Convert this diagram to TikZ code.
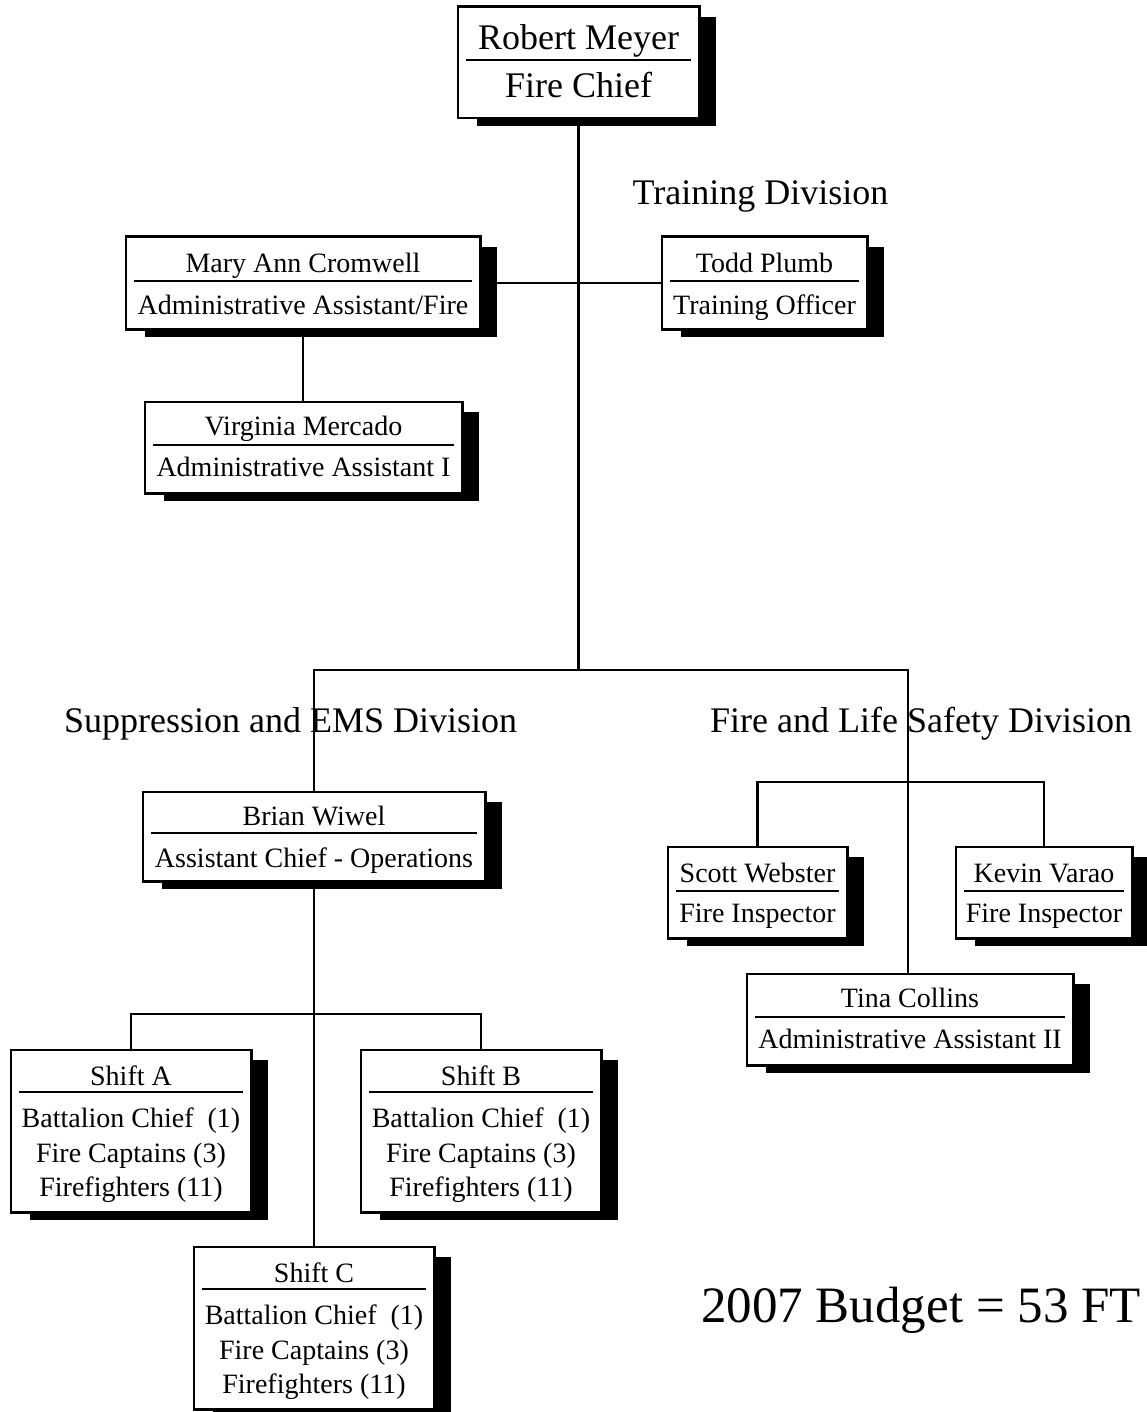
\documentclass[tikz,border=0pt]{standalone}
\usepackage{fontspec}
\setmainfont{Liberation Serif}
\usetikzlibrary{shadows}
\begin{document}
\begin{tikzpicture}[x=1pt,y=-1pt,
  orgbox/.style={draw, line width=2.5pt, fill=white, inner sep=0pt,
    drop shadow={shadow xshift=18pt, shadow yshift=-9pt, fill=black, opacity=1}},
  conn/.style={line width=2.5pt},
  divl/.style={line width=1.4pt},
  lbl/.style={anchor=base, inner sep=0pt, font=\fontsize{28}{30}\selectfont},
  biglbl/.style={anchor=base, inner sep=0pt, font=\fontsize{36}{40}\selectfont},
  budget/.style={anchor=base west, inner sep=0pt, font=\fontsize{51}{56}\selectfont}
]
\useasboundingbox (0,0) rectangle (1146,1412);
\fill[white] (0,0) rectangle (1146,1412);

% junction coordinates
\coordinate (jc) at (578,670);
\coordinate (jr) at (908,670);
\coordinate (fb) at (908,782);
\coordinate (sb) at (314,1014);

% boxes with shadows
\path
  node[orgbox, minimum width=239pt, minimum height=109pt] (chief) at (578.5,62.5) {}
  node[orgbox, minimum width=352pt, minimum height=90pt] (mary) at (303,283) {}
  node[orgbox, minimum width=203pt, minimum height=90pt] (todd) at (764.5,283) {}
  node[orgbox, minimum width=315pt, minimum height=89pt] (virg) at (303.5,447.5) {}
  node[orgbox, minimum width=340pt, minimum height=87pt] (brian) at (314,836.5) {}
  node[orgbox, minimum width=177pt, minimum height=89pt] (scott) at (757.5,892.5) {}
  node[orgbox, minimum width=174pt, minimum height=89pt] (kevin) at (1044,892.5) {}
  node[orgbox, minimum width=324pt, minimum height=89pt] (tina) at (910,1019.5) {}
  node[orgbox, minimum width=238pt, minimum height=160pt] (shA) at (131,1131) {}
  node[orgbox, minimum width=238pt, minimum height=160pt] (shB) at (481,1131) {}
  node[orgbox, minimum width=238pt, minimum height=160pt] (shC) at (314,1328) {};

% connectors
\draw[conn] (chief.south) -- (chief.south |- jc);
\draw[conn] (mary.east) -- (todd.west);
\draw[conn] (mary.south) -- (mary.south |- virg.north);
\draw[conn] (brian.north) -- (brian.north |- jc) -- (jr) -- (jr |- tina.north);
\draw[conn] (scott.north) -- (scott.north |- fb) -- (kevin.north |- fb) -- (kevin.north);
\draw[conn] (brian.south) -- (shC.north);
\draw[conn] (shA.north) -- (shA.north |- sb) -- (shB.north |- sb) -- (shB.north);

% redraw box faces on top of connectors
\foreach \n in {chief,mary,todd,virg,brian,scott,kevin,tina,shA,shB,shC}{
  \draw[line width=2.5pt, fill=white] (\n.north west) rectangle (\n.south east);
}

% dividers
\draw[divl] (466,60) -- (691,60);
\draw[divl] (134,281) -- (472,281);
\draw[divl] (670,281) -- (859,281);
\draw[divl] (153,445) -- (454,445);
\draw[divl] (151,833) -- (477,833);
\draw[divl] (676,891) -- (839,891);
\draw[divl] (964,891) -- (1124,891);
\draw[divl] (755,1017) -- (1065,1017);
\draw[divl] (19,1092) -- (243,1092);
\draw[divl] (369,1092) -- (593,1092);
\draw[divl] (202,1289) -- (426,1289);

% texts
\node[biglbl] (t1) at (578.5,50) {Robert Meyer};
\node[biglbl] (t2) at (578.5,98) {Fire Chief};
\node[lbl] (t3) at (303,273) {Mary Ann Cromwell};
\node[lbl] (t4) at (303,314) {Administrative Assistant/Fire};
\node[lbl] (t5) at (764.5,273) {Todd Plumb};
\node[lbl] (t6) at (764.5,314) {Training Officer};
\node[lbl] (t7) at (303.5,435) {Virginia Mercado};
\node[lbl] (t8) at (303.5,476) {Administrative Assistant I};
\node[lbl] (t9) at (314,825) {Brian Wiwel};
\node[lbl] (t10) at (314,867) {Assistant Chief - Operations};
\node[lbl] (t11) at (757.5,882) {Scott Webster};
\node[lbl] (t12) at (757.5,922) {Fire Inspector};
\node[lbl] (t13) at (1044,882) {Kevin Varao};
\node[lbl] (t14) at (1044,922) {Fire Inspector};
\node[lbl] (t15) at (910,1007) {Tina Collins};
\node[lbl] (t16) at (910,1048) {Administrative Assistant II};

\foreach \cx/\cy/\s/\nm in {131/0/A/a,481/0/B/b,314/197/C/c}{
  \node[lbl] (sh\nm1) at (\cx,1085+\cy) {Shift \s};
  \node[lbl] (sh\nm2) at (\cx,1127+\cy) {Battalion Chief\ \ (1)};
  \node[lbl] (sh\nm3) at (\cx,1162+\cy) {Fire Captains (3)};
  \node[lbl] (sh\nm4) at (\cx,1196+\cy) {Firefighters (11)};
}

\node[biglbl] (train) at (760.5,205) {Training Division};
\node[biglbl, anchor=base west] (supp) at (64,732) {Suppression and EMS Division};
\node[biglbl, anchor=base west] (fls) at (710,732) {Fire and Life Safety Division};
\node[budget] (bud) at (701,1322) {2007 Budget = 53 FT};
\end{tikzpicture}
\end{document}
